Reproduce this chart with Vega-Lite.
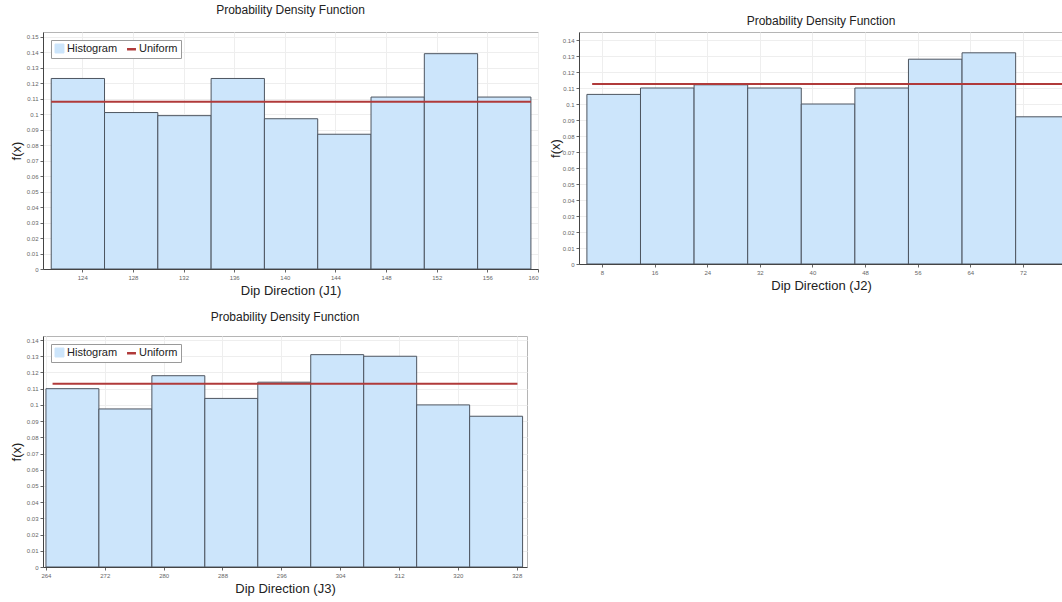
{
  "$schema": "https://vega.github.io/schema/vega-lite/v6.json",
  "padding": {"left": 9, "top": 3, "right": 0, "bottom": 0},
  "background": "white",
  "datasets": {
    "bars": [
      {"panel": "J1", "x0": 121.55, "x1": 125.76, "f": 0.123},
      {"panel": "J1", "x0": 125.76, "x1": 129.97, "f": 0.101},
      {"panel": "J1", "x0": 129.97, "x1": 134.18, "f": 0.099},
      {"panel": "J1", "x0": 134.18, "x1": 138.39, "f": 0.123},
      {"panel": "J1", "x0": 138.39, "x1": 142.6, "f": 0.097},
      {"panel": "J1", "x0": 142.6, "x1": 146.81, "f": 0.087},
      {"panel": "J1", "x0": 146.81, "x1": 151.02, "f": 0.111},
      {"panel": "J1", "x0": 151.02, "x1": 155.23, "f": 0.139},
      {"panel": "J1", "x0": 155.23, "x1": 159.44, "f": 0.111},
      {"panel": "J2", "x0": 5.7, "x1": 13.85, "f": 0.106},
      {"panel": "J2", "x0": 13.85, "x1": 22.0, "f": 0.110},
      {"panel": "J2", "x0": 22.0, "x1": 30.15, "f": 0.112},
      {"panel": "J2", "x0": 30.15, "x1": 38.3, "f": 0.110},
      {"panel": "J2", "x0": 38.3, "x1": 46.45, "f": 0.100},
      {"panel": "J2", "x0": 46.45, "x1": 54.6, "f": 0.110},
      {"panel": "J2", "x0": 54.6, "x1": 62.75, "f": 0.128},
      {"panel": "J2", "x0": 62.75, "x1": 70.9, "f": 0.132},
      {"panel": "J2", "x0": 70.9, "x1": 79.05, "f": 0.092},
      {"panel": "J3", "x0": 264.0, "x1": 271.2, "f": 0.110},
      {"panel": "J3", "x0": 271.2, "x1": 278.4, "f": 0.0975},
      {"panel": "J3", "x0": 278.4, "x1": 285.6, "f": 0.118},
      {"panel": "J3", "x0": 285.6, "x1": 292.8, "f": 0.104},
      {"panel": "J3", "x0": 292.8, "x1": 300.0, "f": 0.114},
      {"panel": "J3", "x0": 300.0, "x1": 307.2, "f": 0.131},
      {"panel": "J3", "x0": 307.2, "x1": 314.4, "f": 0.130},
      {"panel": "J3", "x0": 314.4, "x1": 321.6, "f": 0.100},
      {"panel": "J3", "x0": 321.6, "x1": 328.8, "f": 0.093}
    ],
    "uni": [
      {"panel": "J1", "x0": 121.55, "x1": 159.44, "u": 0.108},
      {"panel": "J2", "x0": 6.5, "x1": 79.05, "u": 0.1125},
      {"panel": "J3", "x0": 264.9, "x1": 328.1, "u": 0.113}
    ]
  },
  "config": {
    "view": {"stroke": "#b5b5b5"},
    "axis": {
      "labelFont": "Liberation Sans", "labelFontSize": 6, "labelColor": "#666", "labelOverlap": false,
      "titleFont": "Liberation Sans", "titleFontSize": 13, "titleFontWeight": "normal", "titleColor": "#222",
      "gridColor": "#eeeeee", "domainColor": "#444", "tickColor": "#666", "tickSize": 3
    },
    "title": {"font": "Liberation Sans", "fontSize": 12, "fontWeight": "normal", "color": "#222", "anchor": "middle"},
    "legend": {
      "orient": "top-left", "direction": "horizontal", "offset": 8,
      "strokeColor": "#9a9a9a", "fillColor": "#ffffff", "padding": 3, "cornerRadius": 0,
      "labelFont": "Liberation Sans", "labelFontSize": 11, "labelColor": "#222",
      "symbolSize": 80, "columnPadding": 4, "labelOffset": 2
    }
  },
  "resolve": {"scale": {"x": "independent", "y": "independent", "color": "independent"}, "legend": {"color": "independent"}},
  "spacing": 12,
  "vconcat": [
    {
      "hconcat": [
        {
          "width": 495, "height": 237,
          "title": {"text": "Probability Density Function", "offset": 15},
          "layer": [
            {
              "data": {"name": "bars"},
              "transform": [{"filter": "datum.panel === 'J1'"}],
              "mark": {"type": "bar", "stroke": "#4d5560", "strokeWidth": 1, "clip": true},
              "encoding": {
                "x": {"field": "x0", "type": "quantitative", "scale": {"domain": [120.9, 160], "nice": false, "zero": false},
                      "axis": {"values": [124, 128, 132, 136, 140, 144, 148, 152, 156, 160], "format": "d", "title": "Dip Direction (J1)", "titlePadding": 4}},
                "x2": {"field": "x1"},
                "y": {"field": "f", "type": "quantitative", "scale": {"domain": [0, 0.153], "nice": false},
                      "axis": {"values": [0, 0.01, 0.02, 0.03, 0.04, 0.05, 0.06, 0.07, 0.08, 0.09, 0.1, 0.11, 0.12, 0.13, 0.14, 0.15], "labelOverlap": false, "format": ".2~f", "title": "f(x)", "titlePadding": 3}},
                "y2": {"datum": 0},
                "color": {"datum": "Histogram", "type": "nominal",
                          "scale": {"domain": ["Histogram", "Uniform"], "range": ["#cce5fb", "#b03a3a"]},
                          "legend": {"title": null,
                                     "encode": {"symbols": {"update": {
                                       "shape": {"signal": "datum.value === 'Uniform' ? 'stroke' : 'square'"},
                                       "fill": {"signal": "datum.value === 'Uniform' ? 'transparent' : '#cce5fb'"},
                                       "stroke": {"signal": "datum.value === 'Uniform' ? '#b03a3a' : '#4d5560'"},
                                       "strokeWidth": {"signal": "datum.value === 'Uniform' ? 2.5 : 1"}}}}}}
              }
            },
            {
              "data": {"name": "uni"},
              "transform": [{"filter": "datum.panel === 'J1'"}],
              "mark": {"type": "rule", "strokeWidth": 2},
              "encoding": {
                "x": {"field": "x0", "type": "quantitative"},
                "x2": {"field": "x1"},
                "y": {"field": "u", "type": "quantitative",
                      "axis": {"values": [0, 0.01, 0.02, 0.03, 0.04, 0.05, 0.06, 0.07, 0.08, 0.09, 0.1, 0.11, 0.12, 0.13, 0.14, 0.15], "labelOverlap": false, "format": ".2~f", "title": "f(x)", "titlePadding": 3}},
                "color": {"datum": "Uniform", "type": "nominal",
                          "legend": {"title": null,
                                     "encode": {"symbols": {"update": {
                                       "shape": {"signal": "datum.value === 'Uniform' ? 'stroke' : 'square'"},
                                       "fill": {"signal": "datum.value === 'Uniform' ? 'transparent' : '#cce5fb'"},
                                       "stroke": {"signal": "datum.value === 'Uniform' ? '#b03a3a' : '#4d5560'"},
                                       "strokeWidth": {"signal": "datum.value === 'Uniform' ? 2.5 : 1"}}}}}}
              }
            }
          ]
        },
        {
          "width": 484, "height": 232,
          "title": {"text": "Probability Density Function", "offset": 4},
          "layer": [
            {
              "data": {"name": "bars"},
              "transform": [{"filter": "datum.panel === 'J2'"}],
              "mark": {"type": "bar", "stroke": "#4d5560", "strokeWidth": 1, "clip": true},
              "encoding": {
                "x": {"field": "x0", "type": "quantitative", "scale": {"domain": [4.5, 78.1], "nice": false, "zero": false},
                      "axis": {"values": [8, 16, 24, 32, 40, 48, 56, 64, 72], "format": "d", "title": "Dip Direction (J2)", "titlePadding": 4}},
                "x2": {"field": "x1"},
                "y": {"field": "f", "type": "quantitative", "scale": {"domain": [0, 0.145], "nice": false},
                      "axis": {"values": [0, 0.01, 0.02, 0.03, 0.04, 0.05, 0.06, 0.07, 0.08, 0.09, 0.1, 0.11, 0.12, 0.13, 0.14], "labelOverlap": false, "format": ".2~f", "title": "f(x)", "titlePadding": 0}},
                "y2": {"datum": 0},
                "color": {"datum": "Histogram", "type": "nominal",
                          "scale": {"domain": ["Histogram", "Uniform"], "range": ["#cce5fb", "#b03a3a"]},
                          "legend": {"title": null,
                                     "encode": {"symbols": {"update": {
                                       "shape": {"signal": "datum.value === 'Uniform' ? 'stroke' : 'square'"},
                                       "fill": {"signal": "datum.value === 'Uniform' ? 'transparent' : '#cce5fb'"},
                                       "stroke": {"signal": "datum.value === 'Uniform' ? '#b03a3a' : '#4d5560'"},
                                       "strokeWidth": {"signal": "datum.value === 'Uniform' ? 2.5 : 1"}}}}}}
              }
            },
            {
              "data": {"name": "uni"},
              "transform": [{"filter": "datum.panel === 'J2'"}],
              "mark": {"type": "rule", "strokeWidth": 2, "clip": true},
              "encoding": {
                "x": {"field": "x0", "type": "quantitative"},
                "x2": {"field": "x1"},
                "y": {"field": "u", "type": "quantitative",
                      "axis": {"values": [0, 0.01, 0.02, 0.03, 0.04, 0.05, 0.06, 0.07, 0.08, 0.09, 0.1, 0.11, 0.12, 0.13, 0.14], "labelOverlap": false, "format": ".2~f", "title": "f(x)", "titlePadding": 0}},
                "color": {"datum": "Uniform", "type": "nominal",
                          "legend": {"title": null,
                                     "encode": {"symbols": {"update": {
                                       "shape": {"signal": "datum.value === 'Uniform' ? 'stroke' : 'square'"},
                                       "fill": {"signal": "datum.value === 'Uniform' ? 'transparent' : '#cce5fb'"},
                                       "stroke": {"signal": "datum.value === 'Uniform' ? '#b03a3a' : '#4d5560'"},
                                       "strokeWidth": {"signal": "datum.value === 'Uniform' ? 2.5 : 1"}}}}}}
              }
            }
          ]
        }
      ],
      "spacing": 9
    },
    {
      "width": 484, "height": 231,
      "title": {"text": "Probability Density Function", "offset": 12},
      "layer": [
        {
          "data": {"name": "bars"},
          "transform": [{"filter": "datum.panel === 'J3'"}],
          "mark": {"type": "bar", "stroke": "#4d5560", "strokeWidth": 1, "clip": true},
          "encoding": {
            "x": {"field": "x0", "type": "quantitative", "scale": {"domain": [263.6, 329.4], "nice": false, "zero": false},
                  "axis": {"values": [264, 272, 280, 288, 296, 304, 312, 320, 328], "format": "d", "title": "Dip Direction (J3)", "titlePadding": 4}},
            "x2": {"field": "x1"},
            "y": {"field": "f", "type": "quantitative", "scale": {"domain": [0, 0.1425], "nice": false},
                  "axis": {"values": [0, 0.01, 0.02, 0.03, 0.04, 0.05, 0.06, 0.07, 0.08, 0.09, 0.1, 0.11, 0.12, 0.13, 0.14], "labelOverlap": false, "format": ".2~f", "title": "f(x)", "titlePadding": 3}},
            "y2": {"datum": 0},
            "color": {"datum": "Histogram", "type": "nominal",
                      "scale": {"domain": ["Histogram", "Uniform"], "range": ["#cce5fb", "#b03a3a"]},
                      "legend": {"title": null,
                                 "encode": {"symbols": {"update": {
                                   "shape": {"signal": "datum.value === 'Uniform' ? 'stroke' : 'square'"},
                                   "fill": {"signal": "datum.value === 'Uniform' ? 'transparent' : '#cce5fb'"},
                                   "stroke": {"signal": "datum.value === 'Uniform' ? '#b03a3a' : '#4d5560'"},
                                   "strokeWidth": {"signal": "datum.value === 'Uniform' ? 2.5 : 1"}}}}}}
          }
        },
        {
          "data": {"name": "uni"},
          "transform": [{"filter": "datum.panel === 'J3'"}],
          "mark": {"type": "rule", "strokeWidth": 2},
          "encoding": {
            "x": {"field": "x0", "type": "quantitative"},
            "x2": {"field": "x1"},
            "y": {"field": "u", "type": "quantitative",
                  "axis": {"values": [0, 0.01, 0.02, 0.03, 0.04, 0.05, 0.06, 0.07, 0.08, 0.09, 0.1, 0.11, 0.12, 0.13, 0.14], "labelOverlap": false, "format": ".2~f", "title": "f(x)", "titlePadding": 3}},
            "color": {"datum": "Uniform", "type": "nominal",
                      "legend": {"title": null,
                                 "encode": {"symbols": {"update": {
                                   "shape": {"signal": "datum.value === 'Uniform' ? 'stroke' : 'square'"},
                                   "fill": {"signal": "datum.value === 'Uniform' ? 'transparent' : '#cce5fb'"},
                                   "stroke": {"signal": "datum.value === 'Uniform' ? '#b03a3a' : '#4d5560'"},
                                   "strokeWidth": {"signal": "datum.value === 'Uniform' ? 2.5 : 1"}}}}}}
          }
        }
      ]
    }
  ]
}
